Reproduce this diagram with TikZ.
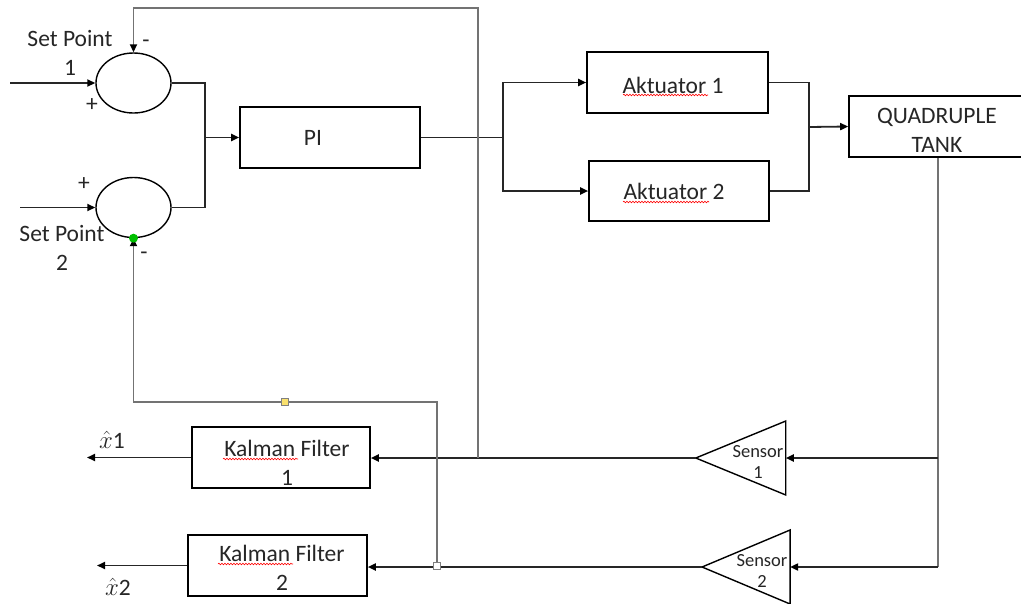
\documentclass[tikz,border=0pt]{standalone}
\usepackage{fontspec}
\setmainfont{Carlito}
\usetikzlibrary{arrows.meta,shapes.geometric,decorations.pathmorphing}
\begin{document}
\begin{tikzpicture}[x=1pt,y=-1pt,
  line/.style={line width=1.8pt, black!85},
  fb/.style={line width=1.8pt, black!55},
  tankline/.style={line width=2.4pt, black!55},
  arr/.style={-{Triangle[length=8pt,width=7pt,color=black]}},
  sumnode/.style={ellipse, draw, line width=1.4pt, minimum width=75pt, minimum height=60pt, inner sep=0pt},
  blockbox/.style={rectangle, draw, line width=1.6pt, inner sep=0pt},
  sensortri/.style={isosceles triangle, isosceles triangle stretches, shape border rotate=180, draw, line width=1.4pt, inner sep=0pt, outer sep=0pt},
  lbl/.style={inner sep=0pt, align=center, text=black!85, font=\fontsize{23.5}{29}\selectfont},
  slbl/.style={inner sep=0pt, align=center, text=black!85, font=\fontsize{18.5}{21}\selectfont},
  spell/.style={red, line width=0.6pt, decorate, decoration={snake, amplitude=0.8pt, segment length=3pt}}
]
\clip (0,0) rectangle (1021,603);
\fill[white] (0,0) rectangle (1021,603);

% summing junctions
\node[sumnode] (s1) at (133.5,83) {};
\node[sumnode] (s2) at (133.5,207.5) {};

% blocks
\node[blockbox, minimum width=180pt, minimum height=61pt] (pi) at (330,137.5) {};
\node[blockbox, minimum width=181pt, minimum height=61pt] (a1) at (677.5,82.5) {};
\node[blockbox, minimum width=180pt, minimum height=60pt] (a2) at (679,191) {};
\node[blockbox, minimum width=200pt, minimum height=61pt] (tank) at (949,126.5) {};
\node[blockbox, minimum width=178pt, minimum height=61pt] (k1) at (281,457.5) {};
\node[blockbox, minimum width=179pt, minimum height=61pt] (k2) at (277.5,565.5) {};
% sensors: minimum height = apex-to-base length, minimum width = base length
\node[sensortri, minimum height=90pt, minimum width=74pt] (sen1) at (761,458) {};
\node[sensortri, minimum height=88pt, minimum width=74pt] (sen2) at (765.5,567) {};

% texts
\node[lbl] (t-pi) at (313,137.5) {PI};
\node[lbl] (t-a1) at (673,85.5) {Aktuator 1};
\node[lbl] (t-a2) at (674,191) {Aktuator 2};
\node[lbl] (t-tank) at (937,130) {QUADRUPLE\\TANK};
\node[lbl] (t-k1) at (287,462.5) {Kalman Filter\\1};
\node[lbl] (t-k2) at (282,567.5) {Kalman Filter\\2};
\node[slbl] (t-sen1) at (758,461.5) {Sensor\\1};
\node[slbl] (t-sen2) at (762,571) {Sensor\\2};
\node[lbl] (t-sp1) at (70,52.5) {Set Point\\1};
\node[lbl] (t-sp2) at (62,247.5) {Set Point\\2};
\node[lbl] (p1) at (92,105) {+};
\node[lbl] (m1) at (146,44) {-};
\node[lbl] (p2) at (84,184) {+};
\node[lbl] (m2) at (144,256) {-};
\node[lbl] (x1) at (112,440) {$\hat{x}$1};
\node[lbl] (x2) at (118,587) {$\hat{x}$2};

% spell-check underlines
\draw[spell] (623,95) -- (708,95);
\draw[spell] (623,202) -- (709,202);
\draw[spell] (223,459) -- (298,459);
\draw[spell] (218,564) -- (293,564);

% coordinates
\coordinate (in1) at (10,83);
\coordinate (in2) at (20,207.5);
\coordinate (j1) at (205,137.5);
\coordinate (j2) at (503,137.5);
\coordinate (j3) at (809,127);
\coordinate (tx) at (938,0);
\coordinate (tb1) at (938,458);
\coordinate (tb2) at (938,567);
\coordinate (f1) at (478,458);
\coordinate (f1top) at (478,8);
\coordinate (f2) at (437,566);
\coordinate (f2turn) at (437,402);
\coordinate (o1) at (87,457.5);
\coordinate (o2) at (97,565.5);

% forward path
\draw[line,arr] (in1) -- (s1.west);
\draw[line,arr] (in2) -- (s2.west);
\draw[line] (s1.east) -| (j1);
\draw[line] (s2.east) -| (j1);
\draw[line,arr] (j1) -- (pi.west);
\draw[line] (pi.east) -- (j2);
\draw[line,arr] (j2) |- (a1.west);
\draw[line,arr] (j2) |- (a2.west);
\draw[line] (a1.east) -| (j3);
\draw[line] (a2.east) -| (j3);
\draw[line,arr] (j3) -- (tank.west);

% measurement path
\draw[tankline] (tank.south -| tx) -- (tb2);
\draw[line,arr] (tb1) -- (sen1.east);
\draw[line,arr] (tb2) -- (sen2.east);
\draw[line,arr] (sen1.west) -- (sen1.west -| k1.east);
\draw[line,arr] (sen2.west) -- (sen2.west -| k2.east);
\draw[line,arr] (k1.west) -- (o1);
\draw[line,arr] (k2.west) -- (o2);

% feedback
\draw[fb,arr] (f1) -- (f1top) -| (s1.north);
\draw[fb,arr] (f2) -- (f2turn) -| (s2.south);

% markers
\fill[green!75!black] (s2.south) circle (4.5pt);
\draw[black!50, fill={rgb,255:red,250;green,225;blue,110}] (281.5,398.5) rectangle (288.5,405.5);
\draw[black!50, fill=white] (433.5,562.5) rectangle (440.5,569.5);
\end{tikzpicture}
\end{document}
